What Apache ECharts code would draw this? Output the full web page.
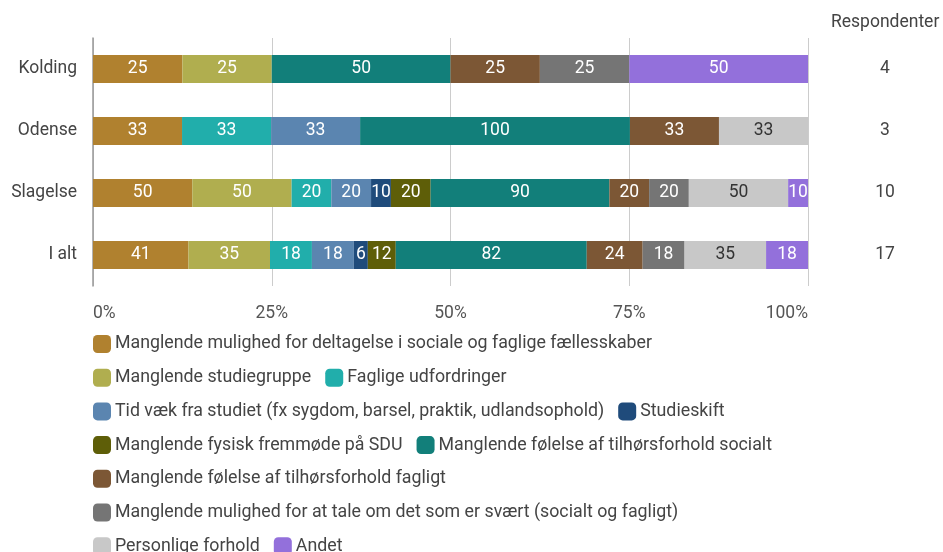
<!DOCTYPE html>
<html>
<head>
<meta charset="utf-8">
<script src="https://cdn.jsdelivr.net/npm/echarts@6/dist/echarts.min.js"></script>
<style>
  html, body { margin: 0; padding: 0; background: #fff; }
  #main { width: 943px; height: 552px; }
</style>
</head>
<body>
<div id="main"></div>
<script>
var categories = ['Kolding', 'Odense', 'Slagelse', 'I alt'];
var respondenter = [4, 3, 10, 17];
var seriesNames = [
  'Manglende mulighed for deltagelse i sociale og faglige fællesskaber',
  'Manglende studiegruppe',
  'Faglige udfordringer',
  'Tid væk fra studiet (fx sygdom, barsel, praktik, udlandsophold)',
  'Studieskift',
  'Manglende fysisk fremmøde på SDU',
  'Manglende følelse af tilhørsforhold socialt',
  'Manglende følelse af tilhørsforhold fagligt',
  'Manglende mulighed for at tale om det som er svært (socialt og fagligt)',
  'Personlige forhold',
  'Andet'
];
// raw counts per series, order: Kolding, Odense, Slagelse, I alt
var deltagelse   = [25, 33, 50, 41];
var studiegruppe = [25, 0, 50, 35];
var udfordringer = [0, 33, 20, 18];
var tidVaek      = [0, 33, 20, 18];
var studieskift  = [0, 0, 10, 6];
var fremmoede    = [0, 0, 20, 12];
var socialt      = [50, 100, 90, 82];
var fagligt      = [25, 33, 20, 24];
var tale         = [25, 0, 20, 18];
var personlige   = [0, 33, 50, 35];
var andet        = [50, 0, 10, 18];
var xTicks = [0, 25, 50, 75, 100];

var rawSeries = [deltagelse, studiegruppe, udfordringer, tidVaek, studieskift,
  fremmoede, socialt, fagligt, tale, personlige, andet];
var colors = ['#b0812f', '#b0ae4f', '#21aeab', '#5b85b0', '#1f4b7b', '#5e5e08',
  '#127f7a', '#7c5735', '#757575', '#c8c8c8', '#9370db'];

var totals = categories.map(function (c, i) {
  var s = 0;
  rawSeries.forEach(function (arr) { s += arr[i]; });
  return s;
});

var chart = echarts.init(document.getElementById('main'));

var series = rawSeries.map(function (arr, k) {
  return {
    name: seriesNames[k],
    type: 'bar',
    stack: 'all',
    barWidth: 28,
    itemStyle: { color: colors[k] },
    label: {
      show: true,
      position: 'inside',
      fontFamily: 'Roboto',
      fontSize: 17.5,
      color: k === 9 ? '#333' : '#fff',
      formatter: function (p) { return arr[p.dataIndex] ? String(arr[p.dataIndex]) : ''; }
    },
    data: arr.map(function (v, i) { return v ? v / totals[i] * 100 : null; })
  };
});

// legend rows as in the picture
var legendRows = [[0], [1, 2], [3, 4], [5, 6], [7], [8], [9, 10]];
var legends = legendRows.map(function (row, r) {
  return {
    left: 88,
    top: 330 + r * 33.7,
    orient: 'horizontal',
    icon: 'roundRect',
    itemWidth: 18,
    itemHeight: 18,
    itemGap: 14,
    selectedMode: false,
    textStyle: { fontFamily: 'Roboto', fontSize: 17.8, color: '#444', padding: [0, 0, 0, -1] },
    data: row.map(function (k) { return seriesNames[k]; })
  };
});

var option = {
  animation: false,
  textStyle: { fontFamily: 'Roboto' },
  title: {
    text: 'Respondenter',
    left: 826,
    top: 9,
    textStyle: { fontFamily: 'Roboto', fontSize: 17.5, fontWeight: 'normal', color: '#444' }
  },
  legend: legends,
  grid: { left: 93, right: 135, top: 38, bottom: 266 },
  xAxis: {
    type: 'value',
    min: 0,
    max: 100,
    interval: 25,
    axisLine: { show: false },
    axisTick: { show: false },
    splitLine: { lineStyle: { color: '#cccccc', width: 1 } },
    axisLabel: {
      margin: 19,
      fontSize: 17.5,
      color: '#555',
      alignMinLabel: 'left',
      alignMaxLabel: 'right',
      formatter: function (v) { return xTicks.indexOf(v) >= 0 ? v + '%' : ''; }
    }
  },
  yAxis: [{
    type: 'category',
    inverse: true,
    data: categories,
    axisTick: { show: false },
    axisLine: { lineStyle: { color: '#999', width: 1.5 } },
    axisLabel: { margin: 16, fontSize: 17.5, color: '#444' }
  }, {
    type: 'category',
    inverse: true,
    position: 'right',
    data: respondenter.map(String),
    axisTick: { show: false },
    axisLine: { show: false },
    axisLabel: { margin: 77, align: 'center', fontSize: 17.5, color: '#444' }
  }],
  series: series
};

chart.setOption(option);
</script>
</body>
</html>
